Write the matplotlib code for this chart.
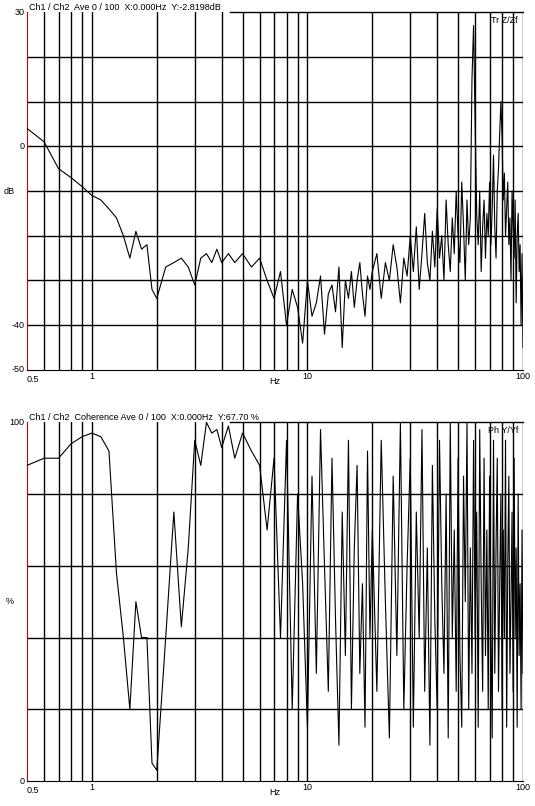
import numpy as np
import matplotlib
matplotlib.use("Agg")
import matplotlib.pyplot as plt

plt.rcParams['font.family'] = ['Liberation Sans', 'DejaVu Sans']

f_low = [0.5, 0.6, 0.7, 0.8, 0.9, 1.0, 1.1, 1.2, 1.3, 1.4, 1.5, 1.6, 1.7, 1.8, 1.9, 2.0,
         2.2, 2.4, 2.6, 2.8, 3.0, 3.2, 3.4, 3.6, 3.8, 4.0, 4.3, 4.6, 5.0, 5.5, 6.0]
f_high = list(np.arange(6.5, 20, 0.5)) + list(np.arange(20, 101, 1))
freq = f_low + f_high

db_vals = [4, 1, -5, -7, -9, -11, -12, -14, -16, -20, -25, -19, -23, -22, -32, -34,
           -27, -26, -25, -27, -31, -25, -24, -26, -23, -26, -24, -26, -24, -27, -25,
           -30, -34, -28, -40, -32, -36, -44, -30, -38, -35, -29, -42, -33, -31, -37, -27,
           -45, -30, -34, -28, -36, -30, -26, -33, -38, -29, -32,
           -28, -24, -34, -26, -30, -22, -27, -35, -25, -29,
           -20, -28, -18, -32, -24, -15, -26, -30, -19, -27,
           -14, -25, -20, -30, -12, -22, -28, -16, -24, -10,
           -20, -26, -8, -18, -30, -12, -22, -16, 15, 27,
           5, -15, -22, -10, -28, -18, -12, -25, -15, -20,
           -8, -22, -14, -2, -18, -25, -10, -5, 3, 10,
           2, -12, -6, -20, -14, -8, -22, -16, -30, -10,
           -18, -25, -12, -35, -20, -15, -28, -22, -40, -24, -45]

coh_vals = [88, 90, 90, 94, 96, 97, 96, 92, 58, 40, 20, 50, 40, 40, 5, 3,
            40, 75, 43, 65, 95, 88, 100, 97, 98, 93, 99, 90, 97, 92, 88,
            70, 90, 40, 95, 20, 80, 55, 15, 85, 30, 98, 60, 25, 90, 45, 10, 75, 35, 95, 20,
            65, 88, 30, 55, 15, 92, 40,
            70, 25, 95, 50, 12, 85, 35, 100, 20, 60,
            90, 15, 75, 40, 98, 25, 65, 10, 88, 45,
            20, 95, 55, 30, 80, 12, 100, 40, 70, 25,
            90, 35, 15, 85, 50, 100, 20, 65, 30, 95,
            40, 75, 15, 98, 55, 25, 90, 35, 70, 20,
            85, 45, 12, 95, 30, 65, 90, 25, 55, 80,
            20, 70, 40, 95, 15, 60, 85, 30, 50, 75,
            25, 90, 40, 65, 15, 80, 35, 55, 20, 70, 30]

grid_x = [0.6, 0.7, 0.8, 0.9, 1, 2, 3, 4, 5, 6, 7, 8, 9, 10,
          20, 30, 40, 50, 60, 70, 80, 90, 100]

fig = plt.figure(figsize=(5.35, 8.06), dpi=100)
ax1 = fig.add_axes([0.0505, 0.541, 0.927, 0.444])
ax2 = fig.add_axes([0.0505, 0.031, 0.927, 0.445])

def style(ax, ymin, ymax, step, ylabs, unit, unit_y, title, right):
    ax.set_xscale('log')
    ax.set_xlim(0.5, 100)
    ax.set_ylim(ymin, ymax)
    for x in grid_x:
        ax.axvline(x, color='black', lw=1, zorder=1)
    for y in np.arange(ymin + step, ymax, step):
        ax.axhline(y, color='black', lw=1, zorder=1)
    ax.set_xticks([]); ax.set_yticks([])
    ax.minorticks_off()
    for s in ['top', 'right']:
        ax.spines[s].set_visible(False)
    ax.spines['left'].set_color('#cc0000')
    ax.spines['bottom'].set_color('black')
    ax.plot([0.41, 1], [1, 1], transform=ax.transAxes, color='black', lw=1, clip_on=False)
    for v, t in ylabs:
        ax.text(-0.005, v, t, transform=ax.get_yaxis_transform(), ha='right', va='center', fontsize=6.5)
    ax.text(-0.035, unit_y, unit, transform=ax.get_yaxis_transform(), ha='center', va='center', fontsize=6.5)
    ax.text(0.005, 1.0, title, transform=ax.transAxes, ha='left', va='bottom', fontsize=6.5)
    ax.text(0.99, 0.99, right, transform=ax.transAxes, ha='right', va='top', fontsize=6.5)
    tr = ax.get_xaxis_transform()
    ax.text(0.5, -0.015, '0.5', transform=tr, ha='left', va='top', fontsize=6.5)
    for x, t in [(1, '1'), (10, '10'), (100, '100')]:
        ax.text(x, -0.005, t, transform=tr, ha='center', va='top', fontsize=6.5)
    ax.text(0.5, -0.02, 'Hz', transform=ax.transAxes, ha='center', va='top', fontsize=6.5)

style(ax1, -50, 30, 10, [(30, '30'), (0, '0'), (-40, '-40'), (-50, '-50')], 'dB', -10,
      'Ch1 / Ch2  Ave 0 / 100  X:0.000Hz  Y:-2.8198dB', 'Tr Z/Zf')
style(ax2, 0, 100, 20, [(100, '100'), (0, '0')], '%', 50,
      'Ch1 / Ch2  Coherence Ave 0 / 100  X:0.000Hz  Y:67.70 %', 'Ph Y/Yf')

ax1.plot(freq, db_vals, color='black', lw=0.8, zorder=3)
ax2.plot(freq, coh_vals, color='black', lw=0.8, zorder=3)

fig.savefig('out.png', dpi=100)
